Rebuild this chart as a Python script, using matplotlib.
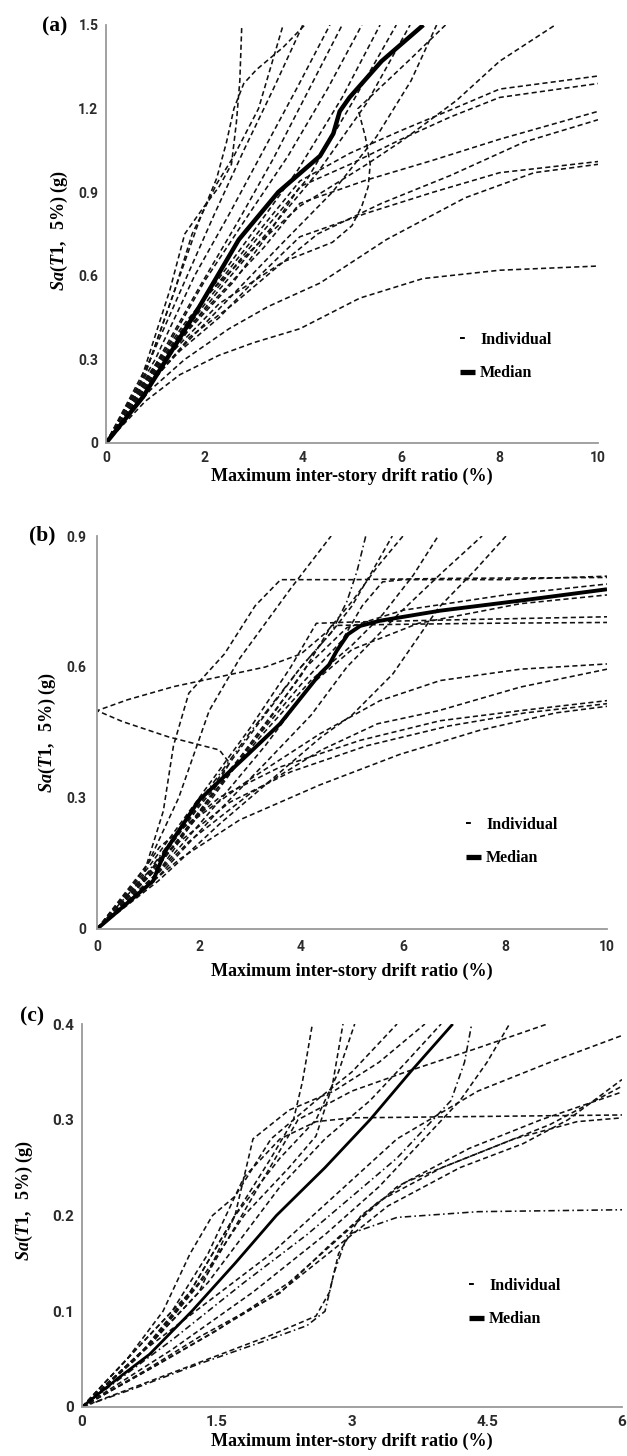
import matplotlib
matplotlib.use("Agg")
import matplotlib.pyplot as plt
from matplotlib.lines import Line2D

plt.rcParams['font.family'] = ['Roboto', 'DejaVu Sans']
plt.rcParams['font.weight'] = 'bold'
plt.rcParams['mathtext.fontset'] = 'custom'
plt.rcParams['mathtext.rm'] = 'Liberation Serif'
plt.rcParams['mathtext.it'] = 'Liberation Serif:italic'
plt.rcParams['mathtext.bf'] = 'Liberation Serif:bold'

W, H = 627, 1456

xlabel_text = "Maximum inter-story drift ratio (%)"
ylabel_text = r"$\mathit{Sa(T1,}$  5%) (g)"
legend_labels = ["Individual", "Median"]

# ---------------- panel (a) ----------------
a_xticks = [0, 2, 4, 6, 8, 10]
a_xticklabels = ["0", "2", "4", "6", "8", "10"]
a_yticks = [0, 0.3, 0.6, 0.9, 1.2, 1.5]
a_yticklabels = ["0", "0.3", "0.6", "0.9", "1.2", "1.5"]

a_med_x = [0, 0.75, 1.9, 2.7, 3.5, 4.35, 4.62, 4.75, 4.95, 5.6, 6.45]
a_med_y = [0, 0.165, 0.49, 0.73, 0.90, 1.03, 1.11, 1.19, 1.24, 1.37, 1.5]

a_ind_x = [
    [0, 0.7, 1.3, 1.6, 2.0, 2.3, 2.55, 2.65, 2.72, 2.76],
    [0, 0.8, 1.4, 1.9, 2.25, 2.45, 2.6, 2.8, 3.06, 3.6, 4.04],
    [0, 0.8, 1.4, 1.75, 2.25, 2.6, 3.1, 3.6],
    [0, 0.9, 1.6, 2.2, 2.8, 3.4, 4.0],
    [0, 1.0, 1.8, 2.5, 3.2, 3.9, 4.55],
    [0, 1.0, 1.9, 2.7, 3.4, 4.1, 4.8],
    [0, 1.1, 2.0, 2.9, 3.7, 4.5, 5.2],
    [0, 1.0, 2.0, 3.0, 3.9, 4.8, 5.57],
    [0, 1.1, 2.1, 3.1, 4.1, 5.0, 5.9],
    [0, 1.2, 2.3, 3.3, 4.3, 5.3, 6.18],
    [0, 1.2, 2.3, 3.6, 4.6, 5.0, 5.2, 5.33, 5.37, 5.27, 5.12, 5.6, 6.2, 6.9],
    [0, 1.2, 2.4, 3.6, 4.6, 5.5, 6.2, 6.72],
    [0, 1.0, 2.0, 3.0, 3.94, 5.3, 5.98, 6.52, 7.13, 8.0, 9.13],
    [0, 0.8, 1.6, 2.4, 3.2, 3.94, 4.96, 5.98, 7.0, 8.0, 10],
    [0, 0.9, 1.7, 2.6, 3.3, 3.94, 4.96, 6.0, 7.0, 8.0, 10],
    [0, 0.8, 1.6, 2.4, 3.2, 3.94, 5.3, 6.65, 8.0, 10],
    [0, 0.9, 1.7, 2.6, 3.4, 4.3, 5.6, 7.0, 8.5, 10],
    [0, 0.8, 1.5, 2.3, 3.0, 3.94, 5.3, 6.65, 8.0, 10],
    [0, 0.9, 1.6, 2.5, 3.3, 4.35, 5.7, 7.3, 8.7, 10],
    [0, 0.8, 1.5, 2.3, 3.0, 3.94, 5.16, 6.44, 8.0, 10],
]
a_ind_y = [
    [0, 0.22, 0.55, 0.75, 0.85, 0.92, 1.0, 1.15, 1.3, 1.5],
    [0, 0.25, 0.55, 0.8, 0.95, 1.08, 1.2, 1.29, 1.34, 1.42, 1.5],
    [0, 0.25, 0.55, 0.75, 0.93, 1.03, 1.2, 1.5],
    [0, 0.3, 0.58, 0.82, 1.05, 1.27, 1.5],
    [0, 0.3, 0.6, 0.82, 1.05, 1.28, 1.5],
    [0, 0.28, 0.56, 0.8, 1.02, 1.26, 1.5],
    [0, 0.3, 0.58, 0.82, 1.03, 1.27, 1.5],
    [0, 0.27, 0.52, 0.76, 0.98, 1.24, 1.5],
    [0, 0.28, 0.52, 0.74, 0.95, 1.22, 1.5],
    [0, 0.3, 0.55, 0.76, 0.97, 1.22, 1.5],
    [0, 0.3, 0.5, 0.65, 0.72, 0.78, 0.85, 0.92, 1.0, 1.1, 1.2, 1.28, 1.38, 1.5],
    [0, 0.28, 0.5, 0.72, 0.9, 1.1, 1.3, 1.5],
    [0, 0.26, 0.52, 0.7, 0.85, 1.0, 1.08, 1.15, 1.23, 1.37, 1.5],
    [0, 0.23, 0.43, 0.6, 0.78, 0.94, 1.04, 1.12, 1.195, 1.27, 1.317],
    [0, 0.22, 0.41, 0.58, 0.75, 0.92, 1.0, 1.09, 1.17, 1.24, 1.29],
    [0, 0.22, 0.4, 0.55, 0.7, 0.86, 0.944, 1.015, 1.09, 1.19],
    [0, 0.21, 0.38, 0.5, 0.62, 0.75, 0.86, 0.96, 1.08, 1.16],
    [0, 0.2, 0.33, 0.45, 0.58, 0.74, 0.825, 0.9, 0.97, 1.01],
    [0, 0.19, 0.3, 0.41, 0.49, 0.574, 0.73, 0.88, 0.97, 1.0],
    [0, 0.15, 0.245, 0.315, 0.36, 0.41, 0.52, 0.59, 0.62, 0.635],
]

# ---------------- panel (b) ----------------
b_xticks = [0, 2, 4, 6, 8, 10]
b_xticklabels = ["0", "2", "4", "6", "8", "10"]
b_yticks = [0, 0.3, 0.6, 0.9]
b_yticklabels = ["0", "0.3", "0.6", "0.9"]

b_med_x = [0, 0.6, 1.1, 1.2, 1.35, 2.0, 2.96, 3.59, 4.37, 4.55, 4.7, 4.92, 5.16, 5.55, 6.73, 8.3, 10]
b_med_y = [0, 0.06, 0.11, 0.14, 0.18, 0.295, 0.40, 0.47, 0.584, 0.605, 0.637, 0.675, 0.694, 0.706, 0.729, 0.752, 0.778]

b_ind_x = [
    [0, 0.9, 1.3, 1.5, 1.8, 2.5, 3.1, 3.6, 5, 7, 10],
    [0, 1.0, 2.0, 3.0, 4.0, 4.8, 5.2, 5.6, 6, 8, 10],
    [0, 1.0, 2.0, 3.0, 3.8, 4.3, 5, 7, 10],
    [0, 1.1, 2.1, 3.1, 4.0, 4.6, 5.5, 7.5, 10],
    [0, 1.2, 2.3, 3.3, 4.2, 5.0, 6.3, 8.3, 10],
    [0, 1.1, 2.2, 3.2, 4.1, 4.9, 6, 8, 10],
    [0, 0.68, 1.62, 2.96, 4.37, 5.55, 6.73, 8.3, 10],
    [0, 0.8, 1.8, 3.0, 4.4, 5.5, 6.7, 8.3, 10],
    [0, 0.7, 1.23, 2.41, 3.59, 5.16, 6.73, 8.3, 10],
    [0, 0.8, 1.4, 2.6, 3.8, 5.3, 6.9, 8.4, 10],
    [0, 0.9, 1.62, 2.8, 4.37, 5.94, 7.5, 9, 10],
    [0, 1.0, 1.6, 2.2, 2.8, 3.3, 3.8, 4.59],
    [0, 1.0, 2.0, 3.0, 4.0, 4.6, 4.9, 5.1, 5.27],
    [0, 1.1, 2.1, 3.1, 4.0, 4.6, 5.0, 5.4, 5.79],
    [0, 1.1, 2.2, 3.2, 4.2, 5.0, 5.6, 6.2, 6.69],
    [0, 1.2, 2.3, 3.3, 4.2, 4.9, 5.9, 6.8, 7.55],
    [0, 1.2, 2.4, 3.6, 4.4, 5.0, 5.8, 6.7, 7.4, 8.02],
    [0, 1.2, 2.2, 2.6, 2.4, 1.4, 0.5, 0, 0.6, 1.5, 2.5, 3.3, 4.0, 4.5, 5.0, 5.5, 6.0],
]
b_ind_y = [
    [0, 0.12, 0.27, 0.42, 0.54, 0.63, 0.74, 0.80, 0.80, 0.803, 0.805],
    [0, 0.12, 0.28, 0.42, 0.56, 0.66, 0.74, 0.795, 0.80, 0.80, 0.808],
    [0, 0.14, 0.3, 0.46, 0.6, 0.70, 0.703, 0.708, 0.715],
    [0, 0.13, 0.28, 0.44, 0.58, 0.695, 0.697, 0.70, 0.702],
    [0, 0.13, 0.28, 0.42, 0.56, 0.64, 0.70, 0.745, 0.765],
    [0, 0.13, 0.29, 0.45, 0.6, 0.69, 0.73, 0.765, 0.79],
    [0, 0.074, 0.226, 0.34, 0.447, 0.523, 0.569, 0.595, 0.607],
    [0, 0.08, 0.2, 0.31, 0.41, 0.47, 0.50, 0.554, 0.595],
    [0, 0.1, 0.188, 0.302, 0.371, 0.432, 0.477, 0.50, 0.523],
    [0, 0.1, 0.18, 0.29, 0.36, 0.42, 0.465, 0.495, 0.516],
    [0, 0.09, 0.16, 0.25, 0.33, 0.40, 0.455, 0.495, 0.51],
    [0, 0.15, 0.3, 0.5, 0.62, 0.7, 0.78, 0.9],
    [0, 0.13, 0.29, 0.45, 0.6, 0.68, 0.75, 0.82, 0.9],
    [0, 0.14, 0.3, 0.46, 0.6, 0.68, 0.74, 0.82, 0.9],
    [0, 0.13, 0.3, 0.44, 0.57, 0.65, 0.72, 0.81, 0.9],
    [0, 0.12, 0.26, 0.38, 0.49, 0.6, 0.72, 0.82, 0.9],
    [0, 0.11, 0.24, 0.36, 0.44, 0.49, 0.584, 0.736, 0.82, 0.9],
    [0, 0.13, 0.3, 0.38, 0.41, 0.44, 0.475, 0.5, 0.525, 0.555, 0.58, 0.6, 0.63, 0.68, 0.75, 0.83, 0.9],
]
b_dashdot = [12]

# ---------------- panel (c) ----------------
c_xticks = [0, 1.5, 3, 4.5, 6]
c_xticklabels = ["0", "1.5", "3", "4.5", "6"]
c_yticks = [0, 0.1, 0.2, 0.3, 0.4]
c_yticklabels = ["0", "0.1", "0.2", "0.3", "0.4"]

c_med_x = [0, 0.4, 0.75, 1.22, 1.7, 2.16, 2.7, 3.2, 3.65, 4.12]
c_med_y = [0, 0.03, 0.055, 0.1, 0.15, 0.2, 0.25, 0.3, 0.35, 0.4]

c_ind_x = [
    [0, 0.6, 1.3, 2.0, 2.5, 2.7, 2.8, 2.95, 3.5, 4.4, 6],
    [0, 0.7, 1.4, 2.1, 2.6, 2.75, 2.85, 3.1, 3.6, 4.4, 5.2, 6],
    [0, 0.5, 1.0, 1.4, 1.8, 2.2, 2.6, 3.0, 4, 6],
    [0, 0.7, 1.3, 2.2, 2.74, 3.3, 4.0, 4.8, 5.5, 6],
    [0, 0.7, 1.4, 2.1, 2.8, 3.5, 4.4, 5.2, 6],
    [0, 0.7, 1.4, 2.2, 2.8, 3.4, 4.2, 4.9, 5.4, 6],
    [0, 0.8, 1.5, 2.3, 2.9, 3.5, 4.3, 5.1, 6],
    [0, 0.6, 1.2, 1.7, 2.1, 2.35, 2.45, 2.56],
    [0, 0.7, 1.3, 1.8, 2.3, 2.6, 2.78, 2.9],
    [0, 0.6, 1.2, 1.7, 2.2, 2.6, 2.85, 3.03],
    [0, 0.5, 0.9, 1.2, 1.45, 1.7, 2.1, 2.6, 3.0, 3.5],
    [0, 0.7, 1.3, 1.7, 1.9, 2.3, 2.8, 3.3, 3.81],
    [0, 0.8, 1.4, 1.8, 2.2, 2.7, 3.2, 3.6, 3.99],
    [0, 1.0, 1.8, 2.5, 3.0, 3.5, 4.1, 4.25, 4.33],
    [0, 1.0, 1.9, 2.7, 3.3, 3.8, 4.2, 4.5, 4.75],
    [0, 0.8, 1.4, 1.9, 2.4, 3.0, 3.6, 4.4, 5.17],
]
c_ind_y = [
    [0, 0.02, 0.045, 0.068, 0.085, 0.1, 0.14, 0.18, 0.198, 0.204, 0.206],
    [0, 0.025, 0.05, 0.075, 0.095, 0.12, 0.16, 0.2, 0.235, 0.265, 0.295, 0.335],
    [0, 0.05, 0.1, 0.16, 0.24, 0.28, 0.298, 0.302, 0.303, 0.305],
    [0, 0.038, 0.073, 0.119, 0.168, 0.215, 0.25, 0.28, 0.298, 0.302],
    [0, 0.06, 0.11, 0.16, 0.22, 0.28, 0.33, 0.36, 0.388],
    [0, 0.037, 0.075, 0.12, 0.165, 0.21, 0.25, 0.275, 0.3, 0.342],
    [0, 0.042, 0.08, 0.13, 0.18, 0.23, 0.27, 0.3, 0.329],
    [0, 0.06, 0.12, 0.2, 0.26, 0.3, 0.34, 0.4],
    [0, 0.06, 0.13, 0.2, 0.25, 0.283, 0.335, 0.4],
    [0, 0.05, 0.12, 0.2, 0.26, 0.3, 0.35, 0.4],
    [0, 0.05, 0.1, 0.16, 0.2, 0.22, 0.28, 0.32, 0.35, 0.4],
    [0, 0.06, 0.12, 0.2, 0.28, 0.31, 0.33, 0.36, 0.4],
    [0, 0.07, 0.13, 0.18, 0.23, 0.28, 0.32, 0.36, 0.4],
    [0, 0.07, 0.13, 0.18, 0.22, 0.26, 0.32, 0.36, 0.4],
    [0, 0.06, 0.12, 0.18, 0.23, 0.28, 0.32, 0.36, 0.4],
    [0, 0.07, 0.14, 0.22, 0.3, 0.33, 0.35, 0.375, 0.4],
]
c_dashdot = [0, 13]


def fx(px):
    return px / W


def fy(py):
    return 1 - py / H


def draw_panel(rect, ind_x, ind_y, med_x, med_y, dashdot, xlim, ylim,
               xticks, xtl, yticks, ytl, tick_fs, xpad, ypad, med_lw,
               leg_anchor):
    left, top, right, bottom = rect
    ax = fig.add_axes([fx(left), fy(bottom), fx(right - left), (bottom - top) / H])
    for i, (xs, ys) in enumerate(zip(ind_x, ind_y)):
        ls = (0, (4, 2, 1, 2)) if i in dashdot else (0, (3.2, 2.0))
        ax.plot(xs, ys, color='#111111', lw=1.15, linestyle=ls)
    ax.plot(med_x, med_y, color='black', lw=med_lw, solid_capstyle='butt')
    ax.set_xlim(*xlim)
    ax.set_ylim(*ylim)
    ax.set_xticks(xticks)
    ax.set_xticklabels(xtl)
    ax.set_yticks(yticks)
    ax.set_yticklabels(ytl)
    for s in ['top', 'right']:
        ax.spines[s].set_visible(False)
    for s in ['left', 'bottom']:
        ax.spines[s].set_color('#9a9a9a')
        ax.spines[s].set_linewidth(1.3)
    ax.tick_params(axis='x', length=0, pad=xpad, labelsize=tick_fs, labelcolor='#2b2b2b')
    ax.tick_params(axis='y', length=0, pad=ypad, labelsize=tick_fs, labelcolor='#2b2b2b')
    h1 = Line2D([], [], color='black', lw=1.4, linestyle=(0, (2.5, 30)))
    h2 = Line2D([], [], color='black', lw=3.8, solid_capstyle='butt')
    ax.legend([h1, h2], legend_labels, loc='center left', bbox_to_anchor=leg_anchor,
              frameon=False, handlelength=0.9, handletextpad=0.35, labelspacing=1.1,
              borderpad=0, borderaxespad=0,
              prop={'family': 'Liberation Serif', 'weight': 'bold', 'size': 11.5})
    return ax


fig = plt.figure(figsize=(W / 100, H / 100), dpi=100)

draw_panel((106, 25, 598, 443), a_ind_x, a_ind_y, a_med_x, a_med_y, [],
           (0, 10), (0, 1.5), a_xticks, a_xticklabels, a_yticks, a_yticklabels,
           10, 6, 5.5, 3.2, (0.72, 0.207))
draw_panel((97, 536, 607, 929), b_ind_x, b_ind_y, b_med_x, b_med_y, b_dashdot,
           (0, 10), (0, 0.9), b_xticks, b_xticklabels, b_yticks, b_yticklabels,
           10, 8, 7.5, 2.8, (0.724, 0.223))
draw_panel((82, 1024, 622, 1407), c_ind_x, c_ind_y, c_med_x, c_med_y, c_dashdot,
           (0, 6), (0, 0.4), c_xticks, c_xticklabels, c_yticks, c_yticklabels,
           11, 5.5, 6, 2.0, (0.717, 0.273))

serif = {'family': 'Liberation Serif', 'weight': 'bold'}
for tag, x, y in [("(a)", 55, 26), ("(b)", 42, 535), ("(c)", 32, 1016)]:
    fig.text(fx(x), fy(y), tag, ha='center', va='center', fontsize=15.5, **serif)
for x, y in [(352, 476), (352, 971), (352, 1441)]:
    fig.text(fx(x), fy(y), xlabel_text, ha='center', va='center', fontsize=13, **serif)
for x, y in [(59, 230), (47, 732), (24, 1200)]:
    fig.text(fx(x), fy(y), ylabel_text, ha='center', va='center', rotation=90,
             fontsize=13, **serif)

fig.savefig("out.png", dpi=100)
